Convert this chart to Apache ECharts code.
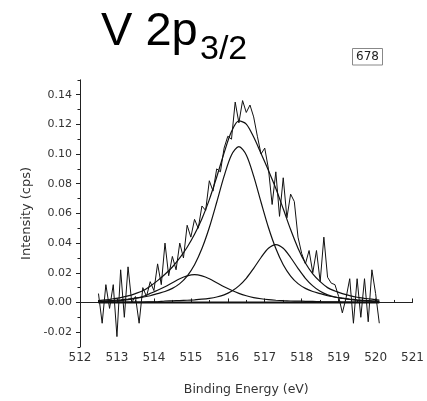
<!DOCTYPE html>
<html><head><meta charset="utf-8">
<script src="https://cdn.jsdelivr.net/npm/echarts@6/dist/echarts.min.js"></script>
<style>html,body{margin:0;padding:0;background:#fff}#c{width:427px;height:401px}</style>
</head><body><div id="c"></div>
<script>
// Fit curves sampled on a 0.2 eV grid
const fitX = [512.5,512.7,512.9,513.1,513.3,513.5,513.7,513.9,514.1,514.3,514.5,514.7,514.9,515.1,515.3,515.5,515.7,515.9,516.1,516.3,516.5,516.7,516.9,517.1,517.3,517.5,517.7,517.9,518.1,518.3,518.5,518.7,518.9,519.1,519.3,519.5,519.7,519.9,520.1];
const mainPeak = [0.0008,0.0011,0.0014,0.0018,0.0023,0.0029,0.0036,0.0045,0.0060,0.0074,0.0095,0.0127,0.0178,0.0254,0.0363,0.0505,0.0675,0.0851,0.0994,0.1050,0.0994,0.0851,0.0675,0.0505,0.0363,0.0254,0.0178,0.0127,0.0095,0.0074,0.0060,0.0045,0.0036,0.0029,0.0023,0.0018,0.0014,0.0011,0.0008];
const lowPeak = [0.0004,0.0006,0.0009,0.0013,0.0019,0.0028,0.0040,0.0061,0.0082,0.0106,0.0133,0.0160,0.0179,0.0187,0.0179,0.0160,0.0133,0.0106,0.0082,0.0061,0.0045,0.0033,0.0025,0.0019,0.0015,0.0012,0.0010,0.0009,0.0008,0.0007,0.0005,0.0004,0.0004,0.0003,0.0003,0.0002,0.0002,0.0002,0.0001];
const highPeak = [0.0001,0.0001,0.0002,0.0002,0.0002,0.0003,0.0003,0.0004,0.0005,0.0010,0.0011,0.0013,0.0015,0.0018,0.0022,0.0028,0.0037,0.0051,0.0075,0.0112,0.0163,0.0230,0.0303,0.0365,0.0390,0.0365,0.0303,0.0230,0.0163,0.0112,0.0075,0.0051,0.0037,0.0028,0.0020,0.0015,0.0012,0.0009,0.0007];
const envelope = [0.0013,0.0018,0.0025,0.0033,0.0044,0.0060,0.0079,0.0110,0.0147,0.0190,0.0239,0.0300,0.0372,0.0459,0.0564,0.0693,0.0845,0.1008,0.1151,0.1223,0.1202,0.1114,0.1003,0.0889,0.0768,0.0631,0.0491,0.0366,0.0266,0.0193,0.0140,0.0100,0.0077,0.0060,0.0046,0.0035,0.0028,0.0022,0.0016];
// Measured spectrum, 0.1 eV steps
const dataX = [512.5,512.6,512.7,512.8,512.9,513.0,513.1,513.2,513.3,513.4,513.5,513.6,513.7,513.8,513.9,514.0,514.1,514.2,514.3,514.4,514.5,514.6,514.7,514.8,514.9,515.0,515.1,515.2,515.3,515.4,515.5,515.6,515.7,515.8,515.9,516.0,516.1,516.2,516.3,516.4,516.5,516.6,516.7,516.8,516.9,517.0,517.1,517.2,517.3,517.4,517.5,517.6,517.7,517.8,517.9,518.0,518.1,518.2,518.3,518.4,518.5,518.6,518.7,518.8,518.9,519.0,519.1,519.2,519.3,519.4,519.5,519.6,519.7,519.8,519.9,520.0,520.1];
const dataY = [0.006,-0.014,0.012,-0.004,0.012,-0.023,0.022,-0.010,0.024,0.000,0.004,-0.014,0.010,0.004,0.014,0.008,0.026,0.012,0.040,0.018,0.031,0.022,0.040,0.030,0.052,0.044,0.056,0.050,0.065,0.062,0.082,0.075,0.090,0.088,0.104,0.112,0.110,0.135,0.121,0.136,0.128,0.133,0.125,0.112,0.100,0.104,0.090,0.066,0.088,0.058,0.084,0.057,0.073,0.068,0.044,0.033,0.026,0.035,0.020,0.035,0.014,0.044,0.017,0.013,0.012,0.004,-0.007,0.003,0.016,-0.014,0.016,-0.010,0.016,-0.013,0.022,0.006,-0.014];
const baseX = [512.5, 520.1];
const baseY = [0, 0];
const yTicks = [-0.02,0,0.02,0.04,0.06,0.08,0.10,0.12,0.14];

const zip = (xs, ys) => xs.map((x, i) => [x, ys[i]]);
const chart = echarts.init(document.getElementById('c'), null, {renderer: 'canvas'});
const axisFont = 'DejaVu Sans';
const lineSeries = (d, w, smooth) => ({type: 'line', data: d, showSymbol: false, smooth: smooth, silent: true,
  lineStyle: {color: '#111', width: w}, z: 3});
chart.setOption({
  animation: false,
  grid: {left: 80, right: 14, top: 79.8, bottom: 49.2, containLabel: false},
  xAxis: {
    type: 'value', min: 512, max: 521, interval: 1,
    axisLine: {lineStyle: {color: '#222', width: 1}},
    axisTick: {inside: true, length: 4, lineStyle: {color: '#222'}},
    minorTick: {show: true, splitNumber: 2, length: 2.5, lineStyle: {color: '#222'}},
    splitLine: {show: false},
    axisLabel: {fontFamily: axisFont, fontSize: 12, color: '#333', margin: 5},
    name: 'Binding Energy (eV)', nameLocation: 'middle', nameGap: 36,
    nameTextStyle: {fontFamily: axisFont, fontSize: 12.5, color: '#333'}
  },
  yAxis: [{
    type: 'value', min: -0.03, max: 0.15, interval: 0.01,
    axisLine: {show: true, lineStyle: {color: '#222', width: 1}},
    axisTick: {show: true, length: 4, customValues: yTicks, lineStyle: {color: '#222'}},
    splitLine: {show: false},
    axisLabel: {fontFamily: axisFont, fontSize: 11, color: '#333', margin: 8, customValues: yTicks,
      formatter: v => v.toFixed(2)},
    name: 'Intensity (cps)', nameLocation: 'middle', nameGap: 47,
    nameTextStyle: {fontFamily: axisFont, fontSize: 13, color: '#333'}
  }, {
    type: 'value', min: -0.03, max: 0.15, interval: 0.01, position: 'left',
    axisLine: {show: false}, axisLabel: {show: false}, splitLine: {show: false},
    axisTick: {show: true, length: 2.5, lineStyle: {color: '#222'}}
  }],
  graphic: [
    {type: 'text', x: 101, y: 32, style: {text: 'V 2p', font: '47px "Liberation Sans"', fill: '#000', verticalAlign: 'middle', align: 'left'}},
    {type: 'text', x: 200, y: 50, style: {text: '3/2', font: '34px "Liberation Sans"', fill: '#000', verticalAlign: 'middle', align: 'left'}},
    {type: 'rect', shape: {x: 352.5, y: 48.5, width: 30, height: 16.5}, style: {fill: '#fff', stroke: '#888', lineWidth: 1}},
    {type: 'text', x: 367.5, y: 57, style: {text: '678', font: '12px "DejaVu Sans"', fill: '#222', verticalAlign: 'middle', align: 'center'}}
  ],
  series: [
    lineSeries(zip(baseX, baseY), 2, false),
    lineSeries(zip(fitX, mainPeak), 1.2, 0.3),
    lineSeries(zip(fitX, lowPeak), 1.2, 0.3),
    lineSeries(zip(fitX, highPeak), 1.2, 0.3),
    lineSeries(zip(fitX, envelope), 1.2, 0.3),
    lineSeries(zip(dataX, dataY), 1, false)
  ]
});
</script></body></html>
